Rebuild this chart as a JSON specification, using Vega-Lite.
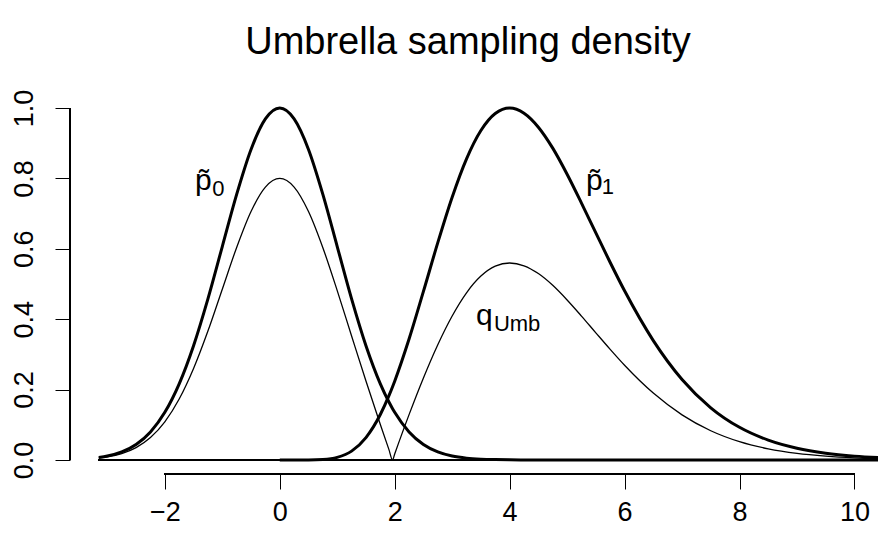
{
  "$schema": "https://vega.github.io/schema/vega-lite/v6.json",
  "width": 808,
  "height": 380,
  "autosize": {"type": "none"},
  "padding": {"left": 70, "top": 94, "right": 0, "bottom": 59},
  "background": "white",
  "config": {
    "view": {"stroke": null},
    "font": "Liberation Sans",
    "axis": {"grid": false, "domain": false, "tickColor": "black", "tickWidth": 1, "labelColor": "black", "labelFont": "Liberation Sans", "labelFontSize": 27, "tickSize": 15, "title": null}
  },
  "title": {"text": "Umbrella sampling density", "fontSize": 38, "font": "Liberation Sans", "fontWeight": "normal", "color": "black", "anchor": "middle", "baseline": "alphabetic", "offset": -3, "dx": -6},
  "datasets": {
    "curves": [
      {"x": -3.15, "p0": 0.0070, "q": 0.0056},
      {"x": -3.0, "p0": 0.0111, "q": 0.0089},
      {"x": -2.75, "p0": 0.0228, "q": 0.0182},
      {"x": -2.5, "p0": 0.0439, "q": 0.0351},
      {"x": -2.25, "p0": 0.0796, "q": 0.0637},
      {"x": -2.0, "p0": 0.1353, "q": 0.1083},
      {"x": -1.75, "p0": 0.2163, "q": 0.1730},
      {"x": -1.5, "p0": 0.3247, "q": 0.2598},
      {"x": -1.25, "p0": 0.4578, "q": 0.3662},
      {"x": -1.0, "p0": 0.6065, "q": 0.4852},
      {"x": -0.75, "p0": 0.7548, "q": 0.6038},
      {"x": -0.5, "p0": 0.8825, "q": 0.7060},
      {"x": -0.25, "p0": 0.9692, "q": 0.7754},
      {"x": 0.0, "p0": 1.0, "p1": 0.0, "q": 0.8},
      {"x": 0.25, "p0": 0.9692, "p1": 0.0, "q": 0.7754},
      {"x": 0.5, "p0": 0.8825, "p1": 0.0001, "q": 0.7060},
      {"x": 0.75, "p0": 0.7548, "p1": 0.0013, "q": 0.6031},
      {"x": 1.0, "p0": 0.6065, "p1": 0.0072, "q": 0.4812},
      {"x": 1.25, "p0": 0.4578, "p1": 0.0250, "q": 0.3522},
      {"x": 1.5, "p0": 0.3247, "p1": 0.0635, "q": 0.2242},
      {"x": 1.75, "p0": 0.2163, "p1": 0.1290, "q": 0.1008},
      {"x": 1.9, "p0": 0.1645, "p1": 0.1826, "q": 0.0293},
      {"x": 1.963, "p0": 0.1456, "p1": 0.2080, "q": 0.0},
      {"x": 2.0, "p0": 0.1353, "p1": 0.2238, "q": 0.0170},
      {"x": 2.25, "p0": 0.0796, "p1": 0.3435, "q": 0.1287},
      {"x": 2.5, "p0": 0.0439, "p1": 0.4789, "q": 0.2331},
      {"x": 2.75, "p0": 0.0228, "p1": 0.6175, "q": 0.3276},
      {"x": 3.0, "p0": 0.0111, "p1": 0.7466, "q": 0.4092},
      {"x": 3.25, "p0": 0.0051, "p1": 0.8557, "q": 0.4751},
      {"x": 3.5, "p0": 0.0022, "p1": 0.9362, "q": 0.5225},
      {"x": 3.75, "p0": 0.0009, "p1": 0.9846, "q": 0.5507},
      {"x": 4.0, "p0": 0.0003, "p1": 1.0, "q": 0.5597},
      {"x": 4.25, "p0": 0.0001, "p1": 0.9854, "q": 0.5518},
      {"x": 4.5, "p0": 0.0, "p1": 0.9457, "q": 0.5296},
      {"x": 4.75, "p0": 0.0, "p1": 0.8861, "q": 0.4962},
      {"x": 5.0, "p0": 0.0, "p1": 0.8120, "q": 0.4547},
      {"x": 5.25, "p0": 0.0, "p1": 0.7301, "q": 0.4089},
      {"x": 5.5, "p0": 0.0, "p1": 0.6452, "q": 0.3613},
      {"x": 5.75, "p0": 0.0, "p1": 0.5611, "q": 0.3142},
      {"x": 6.0, "p0": 0.0, "p1": 0.4806, "q": 0.2691},
      {"x": 6.5, "p0": 0.0, "p1": 0.3392, "q": 0.1900},
      {"x": 7.0, "p0": 0.0, "p1": 0.2287, "q": 0.1281},
      {"x": 7.5, "p0": 0.0, "p1": 0.1482, "q": 0.0830},
      {"x": 8.0, "p0": 0.0, "p1": 0.0927, "q": 0.0519},
      {"x": 8.5, "p0": 0.0, "p1": 0.0563, "q": 0.0315},
      {"x": 9.0, "p0": 0.0, "p1": 0.0333, "q": 0.0186},
      {"x": 9.5, "p0": 0.0, "p1": 0.0192, "q": 0.0108},
      {"x": 10.0, "p0": 0.0, "p1": 0.0108, "q": 0.0060},
      {"x": 10.5, "p0": 0.0, "p1": 0.0060, "q": 0.0034},
      {"x": 11.0, "p0": 0.0, "p1": 0.0033, "q": 0.0018}
    ],
    "mainLabels": [
      {"x": -1.33, "y": 0.767, "t": "p̃"},
      {"x": 5.475, "y": 0.767, "t": "p̃"},
      {"x": 3.561, "y": 0.3835, "t": "q"}
    ],
    "subLabels": [
      {"x": -1.069, "y": 0.751, "t": "0"},
      {"x": 5.71, "y": 0.756, "t": "1"},
      {"x": 4.13, "y": 0.366, "t": "Umb"}
    ]
  },
  "layer": [
    {
      "data": {"name": "curves"},
      "mark": {"type": "rule", "color": "black", "strokeWidth": 1.3, "clip": true},
      "encoding": {
        "x": {"datum": -3.15, "type": "quantitative", "scale": {"domain": [-3.65, 10.41], "nice": false, "zero": false},
              "axis": {"values": [-2, 0, 2, 4, 6, 8, 10], "format": "d", "labelPadding": 10}},
        "x2": {"datum": 11},
        "y": {"datum": 0, "type": "quantitative", "scale": {"domain": [-0.04, 1.04], "nice": false, "zero": false},
              "axis": {"values": [0, 0.2, 0.4, 0.6, 0.8, 1.0], "format": ".1f", "labelAngle": -90, "labelAlign": "center", "labelBaseline": "alphabetic", "labelPadding": 23}}
      }
    },
    {
      "data": {"name": "curves"},
      "mark": {"type": "rule", "color": "black", "strokeWidth": 1},
      "encoding": {
        "x": {"datum": -2, "type": "quantitative"},
        "x2": {"datum": 10},
        "y": {"datum": -0.04, "type": "quantitative"}
      }
    },
    {
      "data": {"name": "curves"},
      "mark": {"type": "rule", "color": "black", "strokeWidth": 1},
      "encoding": {
        "x": {"datum": -3.65, "type": "quantitative"},
        "y": {"datum": 0, "type": "quantitative"},
        "y2": {"datum": 1}
      }
    },
    {
      "data": {"name": "curves"},
      "mark": {"type": "line", "color": "black", "strokeWidth": 1.3, "interpolate": "monotone", "clip": true},
      "encoding": {
        "x": {"field": "x", "type": "quantitative"},
        "y": {"field": "q", "type": "quantitative"}
      }
    },
    {
      "data": {"name": "curves"},
      "mark": {"type": "line", "color": "black", "strokeWidth": 3, "interpolate": "monotone", "clip": true},
      "encoding": {
        "x": {"field": "x", "type": "quantitative"},
        "y": {"field": "p0", "type": "quantitative"}
      }
    },
    {
      "data": {"name": "curves"},
      "transform": [{"filter": "isValid(datum.p1)"}],
      "mark": {"type": "line", "color": "black", "strokeWidth": 3, "interpolate": "monotone", "clip": true},
      "encoding": {
        "x": {"field": "x", "type": "quantitative"},
        "y": {"field": "p1", "type": "quantitative"}
      }
    },
    {
      "data": {"name": "mainLabels"},
      "mark": {"type": "text", "font": "Liberation Sans", "fontSize": 30, "color": "black", "align": "center", "baseline": "alphabetic"},
      "encoding": {
        "x": {"field": "x", "type": "quantitative"},
        "y": {"field": "y", "type": "quantitative"},
        "text": {"field": "t"}
      }
    },
    {
      "data": {"name": "subLabels"},
      "mark": {"type": "text", "font": "Liberation Sans", "fontSize": 22, "color": "black", "align": "center", "baseline": "alphabetic"},
      "encoding": {
        "x": {"field": "x", "type": "quantitative"},
        "y": {"field": "y", "type": "quantitative"},
        "text": {"field": "t"}
      }
    }
  ]
}
